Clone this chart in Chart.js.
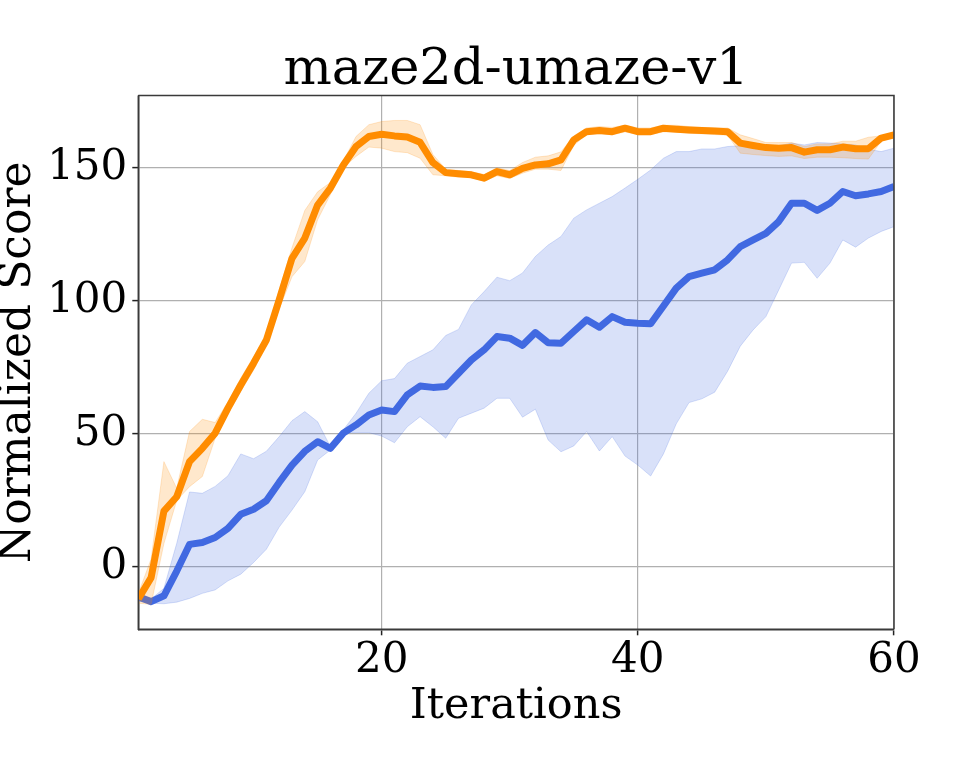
<!DOCTYPE html>
<html>
<head>
<meta charset="utf-8">
<script src="https://cdn.jsdelivr.net/npm/chart.js@4.4.1/dist/chart.umd.min.js"></script>
<style>
html,body{margin:0;padding:0;background:#fff;}
#wrap{width:969px;height:775px;}
</style>
</head>
<body>
<div id="wrap"><canvas id="c" width="969" height="775"></canvas></div>
<script>
const iterations = Array.from({length: 60}, (_, k) => k + 1);
const xTicks = [20, 40, 60];
const yTicks = [0, 50, 100, 150];

const orangeMean = [-12,-4,21,26.4,39.6,44.6,50.3,59.7,68.4,76.6,85.3,100.4,116,123.6,136,142.4,151,158,161.8,162.6,
  162,161.6,159.6,152,148.2,147.8,147.4,146.1,148.6,147.4,149.8,151.1,151.5,153,160.5,163.6,164,163.6,164.9,163.6,
  163.6,164.9,164.5,164.2,164,163.8,163.6,159.3,158.4,157.6,157.4,157.6,155.9,156.8,156.8,157.8,157.2,157.2,161.2,162.4];
const orangeUpper = [-10,3,39.6,29.6,50.9,55.5,54.3,62,71,79,87,104,120,134,141,144.5,152.5,161.8,166.2,167.4,
  167.8,167.8,166.2,155,149.5,149,148.5,147.5,150,149,152,154,154.5,156,162,165,165.5,165.2,166,165,
  165,166,166,165.5,165.2,165,165,162.4,161,159.5,159.5,159.5,158,159,159,160,160,161.5,162,163.5];
const orangeLower = [-13.6,-14,8.8,25,30.2,34,48.4,57.5,66,74,83.5,97,109.1,114.8,130.5,140,150,154.3,157.8,157.4,
  156.1,155.7,153.6,147.4,147,146.5,146.3,145,147,146,148,149.5,149.5,149,158.5,162.5,162.8,162.4,163.5,162.5,
  162.5,163.5,163.5,163,162.8,162.5,162.3,155.5,155,154.6,154.3,154.5,153.5,154,154,153.8,153.5,153.3,160,161.5];

const blueMean = [-11.2,-13,-10.8,-1.5,8.5,9.2,11.1,14.5,19.8,21.7,24.9,31.8,38.3,43.5,47.1,44.6,50.3,53.4,57.1,59,
  58.4,64.7,68,67.5,67.8,72.8,77.8,81.6,86.6,86,83.3,88.1,84.3,84.1,88.5,92.9,90.1,94.1,92,91.6,
  91.4,98.1,104.8,109.1,110.4,111.7,115.4,120.4,122.9,125.4,129.8,136.7,136.7,134,136.7,141.1,139.5,140.2,141.1,143];
const blueUpper = [-11,-12,-8,8.9,28.2,27.7,30.3,34.3,42.5,40.7,43.5,49,55,58.4,54.6,45.2,51.5,57.8,65.3,70,
  70.8,76.6,79.1,81.6,87,89.3,98.5,103.5,108.9,107.6,110.5,116.7,121,124.2,131.1,134.2,136.7,139.2,142.4,145.7,
  149.2,153.6,156.1,156.1,157.1,157.1,158,158.3,158.6,158.6,158.2,159.3,158.6,159.5,159.3,159,158.6,157,156.1,157.4];
const blueLower = [-12.8,-13.6,-13.8,-13.2,-11.8,-9.9,-8.6,-5.2,-2.7,1.7,6.7,15,21.4,28.3,40.2,44,50.5,50.5,50.5,49.2,
  46.7,52.7,56.5,52.7,48.4,55.9,57.8,59.7,63.4,63.4,56.3,59.3,47.7,43.3,45.5,50.9,43.6,49,41.7,38.3,
  34.2,42.5,53.8,61.8,63.2,65.7,73.5,83,89.1,94.1,104.1,114.2,114.5,108.5,114.2,122.9,120.2,123.6,126.1,127.9];

const ORANGE = '#ff8c00', BLUE = '#4169e1';
const ORANGE_FILL = 'rgba(255,140,0,0.2)', BLUE_FILL = 'rgba(65,105,225,0.2)';
const SERIF = "'DejaVu Serif', serif";

const framePlugin = {
  id: 'frame',
  afterDraw(chart) {
    const {ctx, chartArea: a} = chart;
    ctx.save();
    ctx.strokeStyle = '#3a3a3a';
    ctx.lineWidth = 1.5;
    ctx.beginPath();
    ctx.moveTo(a.left, a.top); ctx.lineTo(a.right, a.top); ctx.lineTo(a.right, a.bottom);
    ctx.moveTo(a.left, a.top); ctx.lineTo(a.left, a.bottom); ctx.lineTo(a.right, a.bottom);
    ctx.stroke();
    ctx.restore();
  }
};

const lineDs = (label, data, color) => ({
  label, data, borderColor: color, backgroundColor: color, borderWidth: 7,
  pointRadius: 0, fill: false, tension: 0, borderJoinStyle: 'round', borderCapStyle: 'butt'
});
const bandDs = (label, data, color, fill) => ({
  label, data, borderColor: color, backgroundColor: color, borderWidth: 1,
  pointRadius: 0, fill: fill, tension: 0
});

new Chart(document.getElementById('c'), {
  type: 'line',
  data: {
    labels: iterations,
    datasets: [
      lineDs('orange', orangeMean, ORANGE),
      bandDs('orange upper', orangeUpper, ORANGE_FILL, '+1'),
      bandDs('orange lower', orangeLower, ORANGE_FILL, false),
      lineDs('blue', blueMean, BLUE),
      bandDs('blue upper', blueUpper, BLUE_FILL, '+1'),
      bandDs('blue lower', blueLower, BLUE_FILL, false)
    ]
  },
  options: {
    responsive: false,
    animation: false,
    devicePixelRatio: 1,
    layout: {padding: {left: 0, right: 75, top: 0, bottom: 0}},
    plugins: {
      legend: {display: false},
      tooltip: {enabled: false},
      title: {
        display: true, fullSize: false, text: 'maze2d-umaze-v1', color: '#000',
        font: {family: SERIF, size: 51, weight: 'normal', lineHeight: 0.95},
        padding: {top: 47, bottom: 0}
      }
    },
    scales: {
      x: {
        type: 'linear', min: 1, max: 60,
        afterBuildTicks: s => { s.ticks = xTicks.map(v => ({value: v})); },
        afterFit: s => { s.height = 145.7; },
        grid: {color: '#b0b0b0', lineWidth: 1.2, tickLength: 6, tickColor: '#222', tickWidth: 1.5},
        border: {display: true, color: '#3a3a3a', width: 1.5},
        ticks: {font: {family: SERIF, size: 42}, color: '#000', padding: 1, maxRotation: 0},
        title: {display: true, text: 'Iterations', color: '#000',
          font: {family: SERIF, size: 43, lineHeight: 1.2}, padding: {top: 0, bottom: 42}}
      },
      y: {
        min: -23.4, max: 177.2,
        afterBuildTicks: s => { s.ticks = yTicks.map(v => ({value: v})); },
        afterFit: s => { s.width = 138.3; },
        grid: {color: '#b0b0b0', lineWidth: 1.2, tickLength: 6, tickColor: '#222', tickWidth: 1.5},
        border: {display: true, color: '#3a3a3a', width: 1.5},
        ticks: {font: {family: SERIF, size: 42}, color: '#000', padding: 5},
        title: {display: true, text: 'Normalized Score', color: '#000',
          font: {family: SERIF, size: 44, lineHeight: 0.8}, padding: {top: 1, bottom: 0}}
      }
    }
  },
  plugins: [framePlugin]
});
</script>
</body>
</html>
